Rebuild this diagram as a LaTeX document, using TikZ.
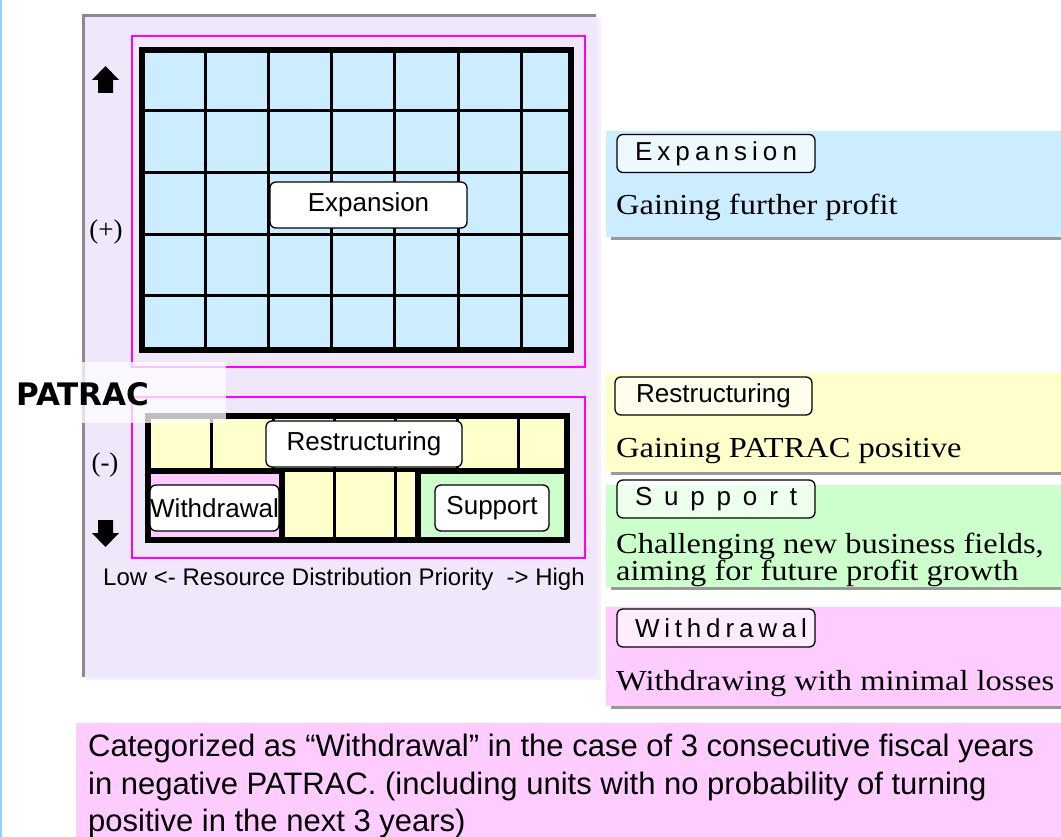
\documentclass[tikz,border=0pt]{standalone}
\usepackage{fontspec}
\setmainfont{Liberation Serif}
\setsansfont{Liberation Sans}
\newfontfamily\descfont{Liberation Serif}[FakeStretch=1.12]
\newfontfamily\patracfont{DejaVu Sans}
\usetikzlibrary{positioning,backgrounds}
\definecolor{lavpanel}{RGB}{241,231,250}
\definecolor{lavedge}{RGB}{140,136,150}
\definecolor{cellblue}{RGB}{204,236,255}
\definecolor{cellyellow}{RGB}{255,255,204}
\definecolor{cellgreen}{RGB}{204,255,204}
\definecolor{cellpink}{RGB}{255,204,255}
\definecolor{zonemagenta}{RGB}{255,0,255}
\definecolor{edgeblue}{RGB}{153,204,255}
\tikzset{
    x=1pt, y=-1pt,
    % outer border of a grid
    gridframe/.style={draw=black, line width=6pt},
    % inner lines of a grid
    cellline/.style={draw=black, line width=3pt},
    % magenta frame round a grid
    zoneframe/.style={draw=zonemagenta, line width=2pt},
    % white rounded label inside the grids
    tag/.style={draw, rounded corners=6pt, fill=white, line width=1.3pt,
                inner sep=0pt, minimum height=46pt,
                font=\sffamily\fontsize{26}{26}\selectfont},
    % rounded label on the right panels
    sidetag/.style={tag, minimum width=198pt, minimum height=38pt,
                    fill opacity=0.65, text opacity=1,
                    font=\sffamily\fontsize{26}{26}\selectfont},
    % description text on the right panels
    desc/.style={anchor=base west, inner sep=0pt,
                 font=\descfont\fontsize{29}{27}\selectfont},
    % drop shadow under a right panel
    panelshadow/.style={fill=black, fill opacity=0.4},
    blockarrow/.style={fill=black}
}
\newcommand{\spaced}[1]{\makebox[162pt][s]{#1}}
\begin{document}
\begin{tikzpicture}
\useasboundingbox (0,0) rectangle (1061,837);
\fill[white] (0,0) rectangle (1061,837);
\draw[edgeblue, line width=1.5pt] (0.75,0) -- (0.75,837);

% left panel
\fill[lavpanel!70!white] (86,18) rectangle (601,680);
\fill[lavpanel] (82,14) rectangle (597,677);
\draw[lavedge, line width=3pt] (83.5,677) -- (83.5,15.5) -- (596,15.5);

% upper zone
\draw[zoneframe] (132,36) rectangle (585,367);
\fill[cellblue] (142,50) rectangle (571,350);
\foreach \x in {205,268,331,394,458,521}
    \draw[cellline] (\x,50) -- (\x,350);
\foreach \y in {111,173,235,296}
    \draw[cellline] (142,\y) -- (571,\y);
\draw[gridframe] (142,50) rectangle (571,350);
\node[tag, minimum width=197pt] (expTag) at (368.5,205) {Expansion};

% lower zone
\draw[zoneframe] (132,397) rectangle (585,558);
\fill[cellyellow] (148,416) rectangle (567,540);
\foreach \x in {211,273,334,395,457,518}
    \draw[cellline] (\x,416) -- (\x,470);
\foreach \x in {334,395}
    \draw[cellline] (\x,470) -- (\x,540);
\draw[line width=4pt] (148,470) -- (567,470);
\draw[gridframe] (148,416) rectangle (567,540);
\draw[gridframe, fill=cellpink] (148,471) rectangle (282,540);
\draw[gridframe, fill=cellgreen] (418,471) rectangle (567,540);
\node[tag, minimum width=196pt] (resTag) at (364,444) {Restructuring};
\node[tag, minimum width=129pt] (witTag) at (214.5,508) {Withdrawal};
\node[tag, minimum width=114pt] (supTag) at (492,508) {Support};

% PATRAC axis
\fill[white, opacity=0.75] (82,362) rectangle (226,423);
\node[anchor=base west, inner sep=0pt,
      font=\patracfont\bfseries\fontsize{31}{31}\selectfont] (patrac) at (16,405) {PATRAC};
\fill[blockarrow] (98,93) -- (98,80) -- (92,80) -- (105.5,66) -- (119,80) -- (113,80) -- (113,93) -- cycle;
\fill[blockarrow] (98,520) -- (98,533) -- (92,533) -- (105.5,547) -- (119,533) -- (113,533) -- (113,520) -- cycle;
\node[font=\fontsize{27}{27}\selectfont] (plus) at (106,232) {(+)};
\node[font=\fontsize{27}{27}\selectfont] (minus) at (105,465) {(-)};
\node[font=\sffamily\fontsize{24}{24}\selectfont] (priority) at (344,579)
    {Low <- Resource Distribution Priority\ \ -> High};

% right panels
\fill[cellblue] (606,131) rectangle (1061,237);
\fill[panelshadow] (611,237) rectangle (1061,240);
\node[sidetag] (expSide) at (716,153.5) {\spaced{E x p a n s i o n}};
\node[desc] (expDesc) at (616,215) {Gaining further profit};

\fill[cellyellow] (606,373) rectangle (1061,472);
\fill[panelshadow] (611,472) rectangle (1061,475);
\node[sidetag, minimum width=197pt] (resSide) at (713.5,396) {Restructuring};
\node[desc] (resDesc) at (616,457) {Gaining PATRAC positive};

\fill[cellgreen] (606,485) rectangle (1061,587);
\fill[panelshadow] (611,587) rectangle (1061,590);
\node[sidetag] (supSide) at (716,499) {\spaced{S u p p o r t}};
\node[desc] (supDescA) at (616,553) {Challenging new business fields,};
\node[desc] (supDescB) at (616,580) {aiming for future profit growth};

\fill[cellpink] (606,607) rectangle (1061,706);
\fill[panelshadow] (611,706) rectangle (1061,709);
\node[sidetag] (witSide) at (716,628) {\spaced{W i t h d r a w a l}};
\node[desc] (witDesc) at (616,690) {Withdrawing with minimal losses};

% note
\fill[cellpink] (76,723) rectangle (1061,837);
\node[anchor=north west, inner sep=0pt, align=left,
      font=\sffamily\fontsize{31}{37.5}\selectfont] (note) at (88,734)
    {Categorized as “Withdrawal” in the case of 3 consecutive fiscal years\\
     in negative PATRAC. (including units with no probability of turning\\
     positive in the next 3 years)};
\end{tikzpicture}
\end{document}
